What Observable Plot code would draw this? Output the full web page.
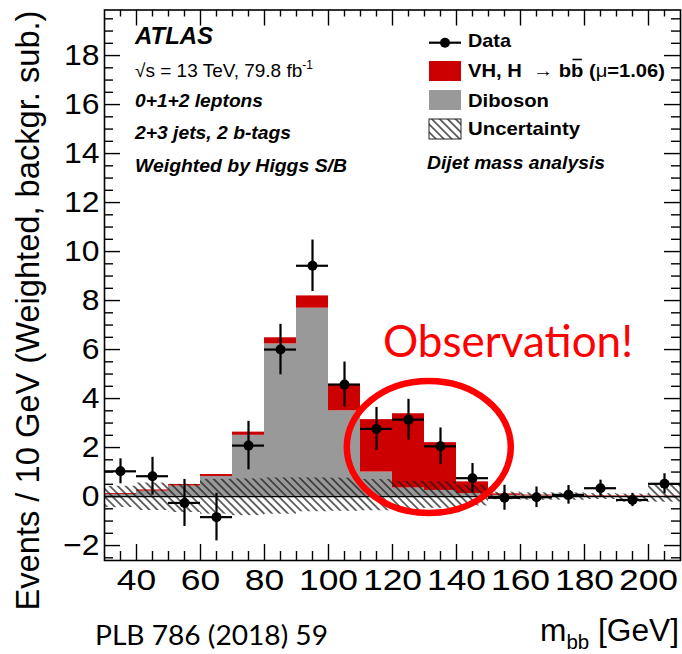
<!DOCTYPE html>
<html>
<head>
<meta charset="utf-8">
<script src="https://cdn.jsdelivr.net/npm/d3@7"></script>
<script src="https://cdn.jsdelivr.net/npm/@observablehq/plot@0.6"></script>
<style>
  html, body { margin: 0; padding: 0; background: #fff; }
  svg { display: block; }
</style>
</head>
<body>
<div id="chart"></div>
<script>
// ---- Data ----
const binLow = [30, 40, 50, 60, 70, 80, 90, 100, 110, 120, 130, 140, 150, 160, 170, 180, 190, 200];
const binWidth = 10;
const dibosonValues = [0.08, 0.22, 0.43, 0.82, 2.50, 6.23, 7.69, 3.50, 1.00, 0.35, 0.25, 0.12, 0.05, 0.03, 0.02, 0.02, 0.01, 0.01];
const vhValues      = [0.04, 0.05, 0.06, 0.08, 0.13, 0.25, 0.50, 1.08, 2.14, 3.03, 1.95, 0.48, 0.06, 0.03, 0.03, 0.02, 0.02, 0.01];
const uncUp         = [0.42, 0.55, 0.50, 0.70, 0.72, 0.76, 0.76, 0.75, 0.70, 0.62, 0.60, 0.45, 0.18, 0.15, 0.15, 0.12, 0.10, 0.50];
const uncDown       = [0.45, 0.57, 0.65, 0.72, 0.78, 0.72, 0.62, 0.60, 0.58, 0.55, 0.48, 0.38, 0.13, 0.15, 0.15, 0.12, 0.23, 0.23];
const dataMass   = [35, 45, 55, 65, 75, 85, 95, 105, 115, 125, 135, 145, 155, 165, 175, 185, 195, 205];
const dataValues = [1.03, 0.83, -0.26, -0.84, 2.08, 6.00, 9.42, 4.57, 2.76, 3.14, 2.05, 0.75, -0.05, -0.03, 0.07, 0.34, -0.14, 0.52];
const dataErrors = [0.51, 0.77, 0.96, 0.97, 0.99, 1.03, 1.05, 0.92, 0.88, 0.83, 0.75, 0.60, 0.51, 0.42, 0.38, 0.33, 0.27, 0.41];

const xTickLabels = [40, 60, 80, 100, 120, 140, 160, 180, 200];
const yTickLabels = [-2, 0, 2, 4, 6, 8, 10, 12, 14, 16, 18];
const xDomain = [30, 210];
const yDomain = [-2.61, 19.86];

const xTitle = "[GeV]";
const yTitle = "Events / 10 GeV (Weighted, backgr. sub.)";
const legendLabels = ["Data", "Diboson", "Uncertainty"];
const infoLines = ["0+1+2 leptons", "2+3 jets, 2 b-tags", "Weighted by Higgs S/B"];

// ---- Layout ----
const W = 682, H = 654;
const mTop = 9.5, mRight = 2, mBottom = 94, mLeft = 104;
const frameW = W - mLeft - mRight;
const frameH = H - mTop - mBottom;
const majorLen = 16, minorLen = 9;

const bins = binLow.map((lo, i) => ({lo, hi: lo + binWidth, dib: dibosonValues[i], vh: vhValues[i], up: uncUp[i], down: uncDown[i]}));
const points = dataMass.map((m, i) => ({m, lo: binLow[i], hi: binLow[i] + binWidth, v: dataValues[i], e: dataErrors[i]}));

const xMinor = d3.range(xDomain[0] + 5, xDomain[1], 5).filter(v => !xTickLabels.includes(v));
const yMinor = d3.range(-2.5, 19.6, 0.5).filter(v => !yTickLabels.includes(v));

const chart = Plot.plot({
  width: W, height: H,
  marginTop: mTop, marginRight: mRight, marginBottom: mBottom, marginLeft: mLeft,
  x: {domain: xDomain},
  y: {domain: yDomain},
  style: {fontFamily: "'Liberation Sans', Arial, Helvetica, sans-serif", background: "white", color: "black", overflow: "visible"},
  marks: [
    Plot.rect(bins, {x1: "lo", x2: "hi", y1: d => 0, y2: "dib", fill: "#999999"}),
    Plot.rect(bins, {x1: "lo", x2: "hi", y1: "dib", y2: d => d.dib + d.vh, fill: "#cc0000"}),
    Plot.rect(bins, {x1: "lo", x2: "hi", y1: d => -d.down, y2: "up", fill: "url(#hatch)"}),
    Plot.ruleY([0], {stroke: "black", strokeWidth: 1.2}),
    Plot.ruleX(points, {x: "m", y1: d => d.v - d.e, y2: d => d.v + d.e, stroke: "black", strokeWidth: 2.2}),
    Plot.ruleY(points, {y: "v", x1: "lo", x2: "hi", stroke: "black", strokeWidth: 2.2}),
    Plot.dot(points, {x: "m", y: "v", r: 5, fill: "black", stroke: "none"}),
    // ticks drawn inside the frame on all four sides
    Plot.tickX(xTickLabels, {x: d => d, insetTop: frameH - majorLen, stroke: "black", strokeWidth: 1.4}),
    Plot.tickX(xMinor, {x: d => d, insetTop: frameH - minorLen, stroke: "black", strokeWidth: 1.4}),
    Plot.tickX(xTickLabels, {x: d => d, insetBottom: frameH - majorLen, stroke: "black", strokeWidth: 1.4}),
    Plot.tickX(xMinor, {x: d => d, insetBottom: frameH - 7, stroke: "black", strokeWidth: 1.4}),
    Plot.tickY(yTickLabels, {y: d => d, insetRight: frameW - majorLen, stroke: "black", strokeWidth: 1.4}),
    Plot.tickY(yMinor, {y: d => d, insetRight: frameW - minorLen, stroke: "black", strokeWidth: 1.4}),
    Plot.tickY(yTickLabels, {y: d => d, insetLeft: frameW - majorLen, stroke: "black", strokeWidth: 1.4}),
    Plot.tickY(yMinor, {y: d => d, insetLeft: frameW - minorLen, stroke: "black", strokeWidth: 1.4}),
    Plot.frame({stroke: "black", strokeWidth: 1.6}),
    Plot.axisX(xTickLabels, {tickSize: 0, tickPadding: 8, fontSize: 30, label: null}),
    Plot.axisY(yTickLabels, {tickSize: 0, tickPadding: 5, fontSize: 29, label: null})
  ]
});

document.getElementById("chart").append(chart);
const svg = d3.select(chart);
const xs = chart.scale("x"), ys = chart.scale("y");

// hatch pattern
const defs = svg.insert("defs", ":first-child");
const pat = defs.append("pattern").attr("id", "hatch").attr("patternUnits", "userSpaceOnUse")
  .attr("width", 5.6).attr("height", 5.6).attr("patternTransform", "rotate(-45)");
pat.append("line").attr("x1", 2.8).attr("y1", 0).attr("x2", 2.8).attr("y2", 5.6)
  .attr("stroke", "#1a1a1a").attr("stroke-width", 1.3);

// widen the tick labels like the reference
svg.selectAll("g[aria-label='x-axis tick label'] text").each(function() {
  const l = this.getComputedTextLength();
  this.setAttribute("textLength", l * 1.18);
  this.setAttribute("lengthAdjust", "spacingAndGlyphs");
});
svg.selectAll("g[aria-label='y-axis tick label'] text").each(function() {
  const l = this.getComputedTextLength();
  this.setAttribute("textLength", l * 1.1);
  this.setAttribute("lengthAdjust", "spacingAndGlyphs");
});

const g = svg.append("g").attr("font-family", "'Liberation Sans', Arial, Helvetica, sans-serif")
  .attr("fill", "black").attr("text-anchor", "start");
function fit(sel, len) { sel.attr("textLength", len).attr("lengthAdjust", "spacingAndGlyphs"); return sel; }

// Y title
fit(g.append("text").attr("transform", "translate(39,310.5) rotate(-90)").attr("text-anchor", "middle")
  .attr("font-size", 33).text(yTitle), 600);

// ATLAS block
fit(g.append("text").attr("x", 135).attr("y", 44).attr("font-size", 23).attr("font-weight", "bold").attr("font-style", "italic").text("ATLAS"), 78);
const sq = g.append("text").attr("x", 135).attr("y", 76.5).attr("font-size", 19);
sq.append("tspan").text("\u221As = 13 TeV, 79.8 fb");
sq.append("tspan").attr("font-size", 12).attr("dy", -8).text("-1");
infoLines.forEach((t, i) => {
  fit(g.append("text").attr("x", 135).attr("y", [106.5, 139, 171.5][i]).attr("font-size", 19)
    .attr("font-weight", "bold").attr("font-style", "italic").text(t), [128, 156, 212][i]);
});

// Legend
const lx = 429, lw = 32, tx = 468;
g.append("line").attr("x1", lx).attr("x2", lx + lw).attr("y1", 42.7).attr("y2", 42.7).attr("stroke", "black").attr("stroke-width", 2.2);
g.append("circle").attr("cx", lx + lw / 2).attr("cy", 42.7).attr("r", 5).attr("fill", "black");
fit(g.append("text").attr("x", tx).attr("y", 47).attr("font-size", 19).attr("font-weight", "bold").text(legendLabels[0]), 43);

g.append("rect").attr("x", lx).attr("y", 61).attr("width", lw).attr("height", 20).attr("fill", "#cc0000");
const vh = g.append("text").attr("x", tx).attr("y", 77).attr("font-size", 19).attr("font-weight", "bold");
vh.append("tspan").text("VH, H ");
vh.append("tspan").attr("font-weight", "normal").text(" \u2192 ");
vh.append("tspan").text("bb");
vh.append("tspan").text(" (");
vh.append("tspan").attr("font-weight", "normal").text("\u03BC");
vh.append("tspan").text("=1.06)");
fit(vh, 197);
// overline over the second b
{
  const node = vh.node();
  const idx = "VH, H  \u2192 b".length;
  const ext = node.getExtentOfChar(idx);
  g.append("line").attr("x1", ext.x + 1.5).attr("x2", ext.x + ext.width - 1.5)
    .attr("y1", 59.5).attr("y2", 59.5).attr("stroke", "black").attr("stroke-width", 1.6);
}

g.append("rect").attr("x", lx).attr("y", 90).attr("width", lw).attr("height", 20).attr("fill", "#999999");
fit(g.append("text").attr("x", tx).attr("y", 107).attr("font-size", 19).attr("font-weight", "bold").text(legendLabels[1]), 81);

g.append("rect").attr("x", lx).attr("y", 119).attr("width", lw).attr("height", 20).attr("fill", "url(#hatch)").attr("stroke", "#222").attr("stroke-width", 1);
fit(g.append("text").attr("x", tx).attr("y", 135).attr("font-size", 19).attr("font-weight", "bold").text(legendLabels[2]), 112);

fit(g.append("text").attr("x", 427).attr("y", 169).attr("font-size", 19).attr("font-weight", "bold").attr("font-style", "italic").text("Dijet mass analysis"), 178);

// Observation annotation
fit(g.append("text").attr("x", 383).attr("y", 357).attr("font-family", "Lato, 'Open Sans', sans-serif").attr("font-size", 44).attr("fill", "#ff0000").text("Observation!"), 250);
g.append("ellipse").attr("cx", xs.apply(131.5)).attr("cy", ys.apply(2.0)).attr("rx", 82).attr("ry", 66)
  .attr("fill", "none").attr("stroke", "#ff0000").attr("stroke-width", 6.5);

// bottom texts
fit(g.append("text").attr("x", 95).attr("y", 645).attr("font-family", "Lato, 'Open Sans', sans-serif").attr("font-size", 27).text("PLB 786 (2018) 59"), 233);
const mt = g.append("text").attr("x", 540).attr("y", 641).attr("font-size", 31);
mt.append("tspan").text("m");
mt.append("tspan").attr("font-size", 20).attr("dy", 8).text("bb");
mt.append("tspan").attr("dy", -8).text(" " + xTitle);
fit(mt, 139);
</script>
</body>
</html>
